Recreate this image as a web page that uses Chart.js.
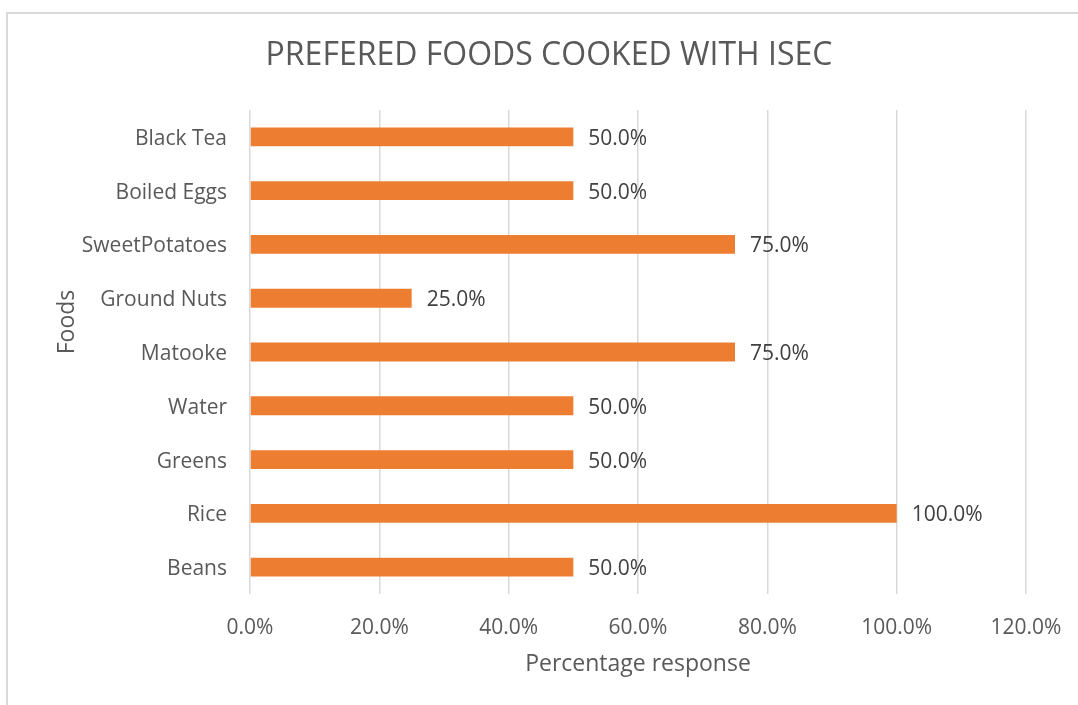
<!DOCTYPE html>
<html>
<head>
<meta charset="utf-8">
<script src="https://cdn.jsdelivr.net/npm/chart.js@4.4.0/dist/chart.umd.min.js"></script>
<style>
  html, body { margin: 0; padding: 0; background: #fff; }
  #frame {
    position: absolute; left: 6px; top: 12px; right: 0; bottom: 0;
    border-top: 2px solid #d9d9d9; border-left: 2px solid #d9d9d9;
  }
  #wrap { position: absolute; left: 0; top: 0; width: 1078px; height: 705px; }
</style>
</head>
<body>
<div id="frame"></div>
<div id="wrap"><canvas id="chart"></canvas></div>
<script>
// categories top to bottom, as in the picture
var foods = ["Black Tea", "Boiled Eggs", "SweetPotatoes", "Ground Nuts", "Matooke", "Water", "Greens", "Rice", "Beans"];
var percentResponse = [50, 50, 75, 25, 75, 50, 50, 100, 50];
var xTicks = [0, 20, 40, 60, 80, 100, 120];

var chartTitle = "PREFERED FOODS COOKED WITH ISEC";
var yTitle = "Foods";

var FONT = "'Open Sans', sans-serif";

// Draw value labels just right of each bar end
var valueLabels = {
  id: 'valueLabels',
  afterDatasetsDraw: function(chart) {
    var ctx = chart.ctx;
    var meta = chart.getDatasetMeta(0);
    ctx.save();
    ctx.font = "21px " + FONT;
    ctx.fillStyle = "#404040";
    ctx.textAlign = "left";
    ctx.textBaseline = "middle";
    meta.data.forEach(function(bar, i) {
      ctx.fillText(percentResponse[i].toFixed(1) + "%", bar.x + 15, bar.y + 2);
    });
    ctx.restore();
  }
};

// Chart title and y axis title, placed like the Excel original
var headings = {
  id: 'headings',
  afterDraw: function(chart) {
    var ctx = chart.ctx;
    ctx.save();
    ctx.fillStyle = "#595959";
    ctx.textAlign = "center";
    ctx.textBaseline = "middle";
    ctx.font = "32px " + FONT;
    ctx.fillText(chartTitle, 549, 56);

    ctx.font = "23px " + FONT;
    ctx.translate(67, 322);
    ctx.rotate(-Math.PI / 2);
    ctx.fillText(yTitle, 0, 0);
    ctx.restore();
  }
};

new Chart(document.getElementById("chart"), {
  type: "bar",
  data: {
    labels: foods,
    datasets: [{
      data: percentResponse,
      backgroundColor: "#ED7D31",
      barPercentage: 0.35,
      categoryPercentage: 1.0
    }]
  },
  options: {
    indexAxis: "y",
    responsive: true,
    maintainAspectRatio: false,
    animation: false,
    layout: { padding: { left: 0, right: 52, top: 110, bottom: 0 } },
    plugins: {
      legend: { display: false },
      tooltip: { enabled: false },
      title: { display: false }
    },
    scales: {
      x: {
        min: 0,
        max: 120,
        afterBuildTicks: function(scale) {
          scale.ticks = xTicks.map(function(v) { return { value: v }; });
        },
        afterFit: function(scale) {
          scale.height = 111;
          scale.paddingLeft = 0;
          scale.paddingRight = 0;
        },
        grid: { color: "#d9d9d9", lineWidth: 1.5, drawTicks: false },
        border: { display: false },
        ticks: {
          color: "#595959",
          font: { family: FONT, size: 21 },
          padding: 21,
          callback: function(v) { return v.toFixed(1) + "%"; }
        },
        title: {
          display: true,
          text: "Percentage response",
          color: "#595959",
          font: { family: FONT, size: 23 },
          padding: { top: 0, bottom: 27 }
        }
      },
      y: {
        afterFit: function(scale) {
          scale.width = 250;
          scale.paddingTop = 0;
          scale.paddingBottom = 0;
        },
        grid: { display: false, drawTicks: false },
        border: { display: false },
        ticks: {
          color: "#595959",
          font: { family: FONT, size: 21 },
          padding: 23,
          labelOffset: 2
        }
      }
    }
  },
  plugins: [valueLabels, headings]
});
</script>
</body>
</html>
